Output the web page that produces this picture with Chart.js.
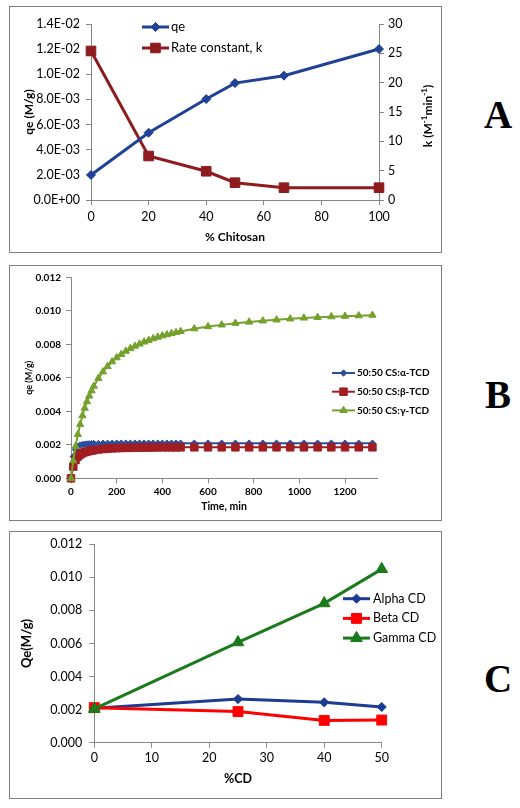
<!DOCTYPE html>
<html lang="en">
<head>
<meta charset="UTF-8">
<title>Chitosan / cyclodextrin adsorption</title>
<script src="https://cdn.jsdelivr.net/npm/chart.js"></script>
<style>
  body { margin: 0; background: #fff; width: 520px; height: 808px; position: relative; overflow: hidden; }
  .box { position: absolute; border: 1px solid #7f7f7f; box-sizing: border-box; }
  canvas { position: absolute; left: 0; }
  .tag { position: absolute; font-family: 'Liberation Serif', serif; font-weight: bold; font-size: 39px;
         transform: translate(-50%, -50%); color: #000; }
</style>
</head>
<body>
<div class="box" style="left:9px;top:6px;width:433px;height:247px"></div>
<div class="box" style="left:9px;top:265px;width:433px;height:256px"></div>
<div class="box" style="left:9px;top:531px;width:433px;height:268px"></div>

<canvas id="chartA" width="450" height="260" style="top:0"></canvas>
<canvas id="chartB" width="450" height="260" style="top:260px"></canvas>
<canvas id="chartC" width="450" height="280" style="top:525px"></canvas>

<div class="tag" style="left:498px;top:114px">A</div>
<div class="tag" style="left:498px;top:394px">B</div>
<div class="tag" style="left:498px;top:678px">C</div>

<script>
// ---- panel A: qe and rate constant vs % chitosan
const chitosanPct = [0, 20, 40, 50, 67, 100];
const qeValues = [0.00199, 0.00535, 0.00803, 0.0093, 0.00989, 0.01201];
const kValues = [25.4, 7.5, 4.9, 2.95, 2.1, 2.1];
const pctTicks = [0, 20, 40, 60, 80, 100];
const qeTicks = [0, 0.002, 0.004, 0.006, 0.008, 0.010, 0.012, 0.014];
const qeTickLabels = ['0.0E+00', '2.0E-03', '4.0E-03', '6.0E-03', '8.0E-03', '1.0E-02', '1.2E-02', '1.4E-02'];
const kTicks = [0, 5, 10, 15, 20, 25, 30];

// ---- panel B: kinetics of 50:50 CS:CD blends
const timeMin = [0, 10, 20, 30, 40, 50, 60, 70, 80, 90, 100, 120, 140, 160, 180, 200, 220, 240, 260, 280,
  300, 320, 340, 360, 380, 400, 420, 440, 460, 480, 540, 600, 660, 720, 780, 840, 900, 960, 1020, 1080,
  1140, 1200, 1260, 1320];
const alphaTCD = [0, 0.0013, 0.0017, 0.0019, 0.00198, 0.00202, 0.00204, 0.00205, 0.00206, 0.00207, 0.00208,
  0.00208, 0.00209, 0.00209, 0.00209, 0.0021, 0.0021, 0.0021, 0.0021, 0.0021, 0.0021, 0.0021, 0.0021, 0.0021,
  0.0021, 0.0021, 0.0021, 0.0021, 0.0021, 0.0021, 0.0021, 0.0021, 0.0021, 0.0021, 0.0021, 0.0021, 0.0021,
  0.0021, 0.0021, 0.0021, 0.0021, 0.0021, 0.0021, 0.0021];
const betaTCD = [0, 0.0007, 0.0011, 0.0013, 0.00142, 0.0015, 0.00156, 0.0016, 0.00163, 0.00166, 0.00168,
  0.00172, 0.00175, 0.00177, 0.00179, 0.0018, 0.00181, 0.00182, 0.00182, 0.00183, 0.00183, 0.00184, 0.00184,
  0.00184, 0.00185, 0.00185, 0.00185, 0.00185, 0.00185, 0.00185, 0.00185, 0.00185, 0.00185, 0.00185, 0.00185,
  0.00185, 0.00185, 0.00185, 0.00185, 0.00185, 0.00185, 0.00185, 0.00185, 0.00185];
const gammaTCD = [0, 0.00105, 0.00191, 0.00262, 0.00322, 0.00374, 0.00419, 0.00458, 0.00492, 0.00523, 0.0055,
  0.00597, 0.00636, 0.00668, 0.00696, 0.0072, 0.0074, 0.00759, 0.00775, 0.00789, 0.00802, 0.00814, 0.00824,
  0.00834, 0.00843, 0.00851, 0.00858, 0.00865, 0.00871, 0.00877, 0.00893, 0.00906, 0.00916, 0.00926, 0.00933,
  0.0094, 0.00946, 0.00952, 0.00957, 0.00961, 0.00965, 0.00968, 0.00971, 0.00974];
const timeTicks = [0, 200, 400, 600, 800, 1000, 1200];
const timeTickLabels = ['0', '200', '400', '600', '800', '1000', '1200'];

// ---- panel C: Qe vs % CD
const cdPct = [0, 25, 40, 50];
const alphaCD = [0.00208, 0.00264, 0.00244, 0.00216];
const betaCD = [0.00212, 0.00188, 0.00135, 0.00137];
const gammaCD = [0.00204, 0.00607, 0.00843, 0.0105];
const cdTicks = [0, 10, 20, 30, 40, 50];

// shared 0.000 - 0.012 axis for B and C
const q12Ticks = [0, 0.002, 0.004, 0.006, 0.008, 0.010, 0.012];
const q12TickLabels = ['0.000', '0.002', '0.004', '0.006', '0.008', '0.010', '0.012'];

Chart.defaults.font.family = "Lato, 'Liberation Sans', sans-serif";
Chart.defaults.color = '#000';

const pairs = (xs, ys) => xs.map((x, i) => ({ x: x, y: ys[i] }));
const useTicks = vals => scale => { scale.ticks = vals.map(v => ({ value: v })); };
const fitWidth = w => scale => { scale.width = w; };
const fitHeight = h => scale => { scale.height = h; };
const axisGrid = { display: true, drawOnChartArea: false, drawTicks: true, tickLength: 5, color: '#868686' };
const axisBorder = { color: '#868686', width: 1 };

// legend drawn inside the plot, Excel style (line with marker in the middle)
const legendBox = {
  id: 'legendBox',
  afterDatasetsDraw(chart, args, opts) {
    const ctx = chart.ctx;
    ctx.save();
    chart.data.datasets.forEach((ds, i) => {
      const y = opts.top + i * opts.rowHeight;
      ctx.strokeStyle = ds.borderColor;
      ctx.lineWidth = ds.borderWidth;
      ctx.beginPath();
      ctx.moveTo(opts.left, y);
      ctx.lineTo(opts.left + opts.lineLength, y);
      ctx.stroke();
      ctx.fillStyle = ds.backgroundColor;
      ctx.lineWidth = 1;
      Chart.helpers.drawPoint(ctx, { pointStyle: ds.pointStyle, radius: ds.pointRadius, rotation: 0, borderWidth: 1 },
        opts.left + opts.lineLength / 2, y);
      ctx.fillStyle = '#000';
      ctx.font = opts.font;
      ctx.textAlign = 'left';
      ctx.textBaseline = 'middle';
      ctx.fillText(ds.label, opts.left + opts.lineLength + opts.gap, y);
    });
    ctx.restore();
  }
};

// right axis title of A reads bottom-to-top and has superscripts
const kTitle = {
  id: 'kTitle',
  afterDraw(chart) {
    const ctx = chart.ctx;
    const area = chart.chartArea;
    const parts = [['k (M', 12, 0], ['-1', 8, -4], ['min', 12, 0], ['-1', 8, -4], [')', 12, 0]];
    const fam = Chart.defaults.font.family;
    ctx.save();
    let total = 0;
    parts.forEach(p => { ctx.font = 'bold ' + p[1] + 'px ' + fam; total += ctx.measureText(p[0]).width; });
    ctx.translate(chart.scales.y2.right - 22, (area.top + area.bottom) / 2 + 4);
    ctx.rotate(-Math.PI / 2);
    ctx.fillStyle = '#000';
    ctx.textBaseline = 'middle';
    ctx.textAlign = 'left';
    let x = -total / 2;
    parts.forEach(p => {
      ctx.font = 'bold ' + p[1] + 'px ' + fam;
      ctx.fillText(p[0], x, p[2]);
      x += ctx.measureText(p[0]).width;
    });
    ctx.restore();
  }
};

const blueA = '#1f4196', redA = '#8e1b1e';
new Chart(document.getElementById('chartA'), {
  type: 'line',
  data: {
    datasets: [
      { label: 'qe', data: pairs(chitosanPct, qeValues), yAxisID: 'y', borderColor: blueA, backgroundColor: blueA,
        borderWidth: 3, pointStyle: 'rectRot', pointRadius: 4.5, pointBorderWidth: 1, clip: false },
      { label: 'Rate constant, k', data: pairs(chitosanPct, kValues), yAxisID: 'y2', borderColor: redA, backgroundColor: redA,
        borderWidth: 3, pointStyle: 'rect', pointRadius: 6.8, pointBorderWidth: 1, clip: false }
    ]
  },
  options: {
    responsive: false, animation: false,
    layout: { padding: { top: 24, left: 0, right: 0, bottom: 0 } },
    plugins: {
      legend: { display: false }, tooltip: { enabled: false },
      legendBox: { left: 142, top: 27, rowHeight: 21, lineLength: 27, gap: 2, font: "13px Lato, 'Liberation Sans', sans-serif" }
    },
    scales: {
      x: { type: 'linear', min: 0, max: 100, afterBuildTicks: useTicks(pctTicks), afterFit: fitHeight(60),
        grid: axisGrid, border: axisBorder, ticks: { font: { size: 12.5 }, padding: 4, maxRotation: 0 },
        title: { display: true, text: '% Chitosan', font: { size: 12, weight: 'bold' }, padding: { top: 0, bottom: 15.8 } } },
      y: { position: 'left', min: 0, max: 0.014, afterBuildTicks: useTicks(qeTicks), afterFit: fitWidth(91),
        grid: axisGrid, border: axisBorder, ticks: { font: { size: 12.5 }, padding: 6, callback: (v, i) => qeTickLabels[i] },
        title: { display: true, text: 'qe (M/g)', font: { size: 12, weight: 'bold' }, padding: { top: 21.8, bottom: 0 } } },
      y2: { position: 'right', min: 0, max: 30, afterBuildTicks: useTicks(kTicks), afterFit: fitWidth(71),
        grid: axisGrid, border: axisBorder, ticks: { font: { size: 12.5 }, padding: 4 } }
    }
  },
  plugins: [legendBox, kTitle]
});

const blueB = '#2a4f9e', redB = '#a01e23', greenB = '#74a02c';
new Chart(document.getElementById('chartB'), {
  type: 'line',
  data: {
    datasets: [
      { label: '50:50 CS:\u03b1-TCD', data: pairs(timeMin, alphaTCD), order: 3, borderColor: blueB, backgroundColor: blueB,
        borderWidth: 2, pointStyle: 'rectRot', pointRadius: 3.2, pointBorderWidth: 1, clip: false },
      { label: '50:50 CS:\u03b2-TCD', data: pairs(timeMin, betaTCD), order: 2, borderColor: redB, backgroundColor: redB,
        borderWidth: 2, pointStyle: 'rect', pointRadius: 5.3, pointBorderWidth: 1, clip: false },
      { label: '50:50 CS:\u03b3-TCD', data: pairs(timeMin, gammaTCD), order: 1, borderColor: greenB, backgroundColor: greenB,
        borderWidth: 2, pointStyle: 'triangle', pointRadius: 4.2, pointBorderWidth: 1, clip: false }
    ]
  },
  options: {
    responsive: false, animation: false,
    layout: { padding: { top: 17.3, left: 0, right: 73, bottom: 0 } },
    plugins: {
      legend: { display: false }, tooltip: { enabled: false },
      legendBox: { left: 332, top: 113, rowHeight: 18.7, lineLength: 23, gap: 2, font: "bold 10px Lato, 'Liberation Sans', sans-serif" }
    },
    scales: {
      x: { type: 'linear', min: 0, max: 1340, afterBuildTicks: useTicks(timeTicks), afterFit: fitHeight(41.7),
        grid: axisGrid, border: axisBorder,
        ticks: { font: { size: 10, weight: 'bold' }, padding: 2, maxRotation: 0, callback: (v, i) => timeTickLabels[i] },
        title: { display: true, text: 'Time, min', font: { size: 10.5, weight: 'bold' }, padding: { top: 0, bottom: 7 } } },
      y: { position: 'left', min: 0, max: 0.012, afterBuildTicks: useTicks(q12Ticks), afterFit: fitWidth(71),
        grid: axisGrid, border: axisBorder, ticks: { font: { size: 10, weight: 'bold' }, padding: 5, callback: (v, i) => q12TickLabels[i] },
        title: { display: true, text: 'qe (M/g)', font: { size: 9, weight: 'bold' }, padding: { top: 23.6, bottom: 0 } } }
    }
  },
  plugins: [legendBox]
});

const blueC = '#1c3c93', redC = '#ff0000', greenC = '#1b7a1b';
new Chart(document.getElementById('chartC'), {
  type: 'line',
  data: {
    datasets: [
      { label: 'Alpha CD', data: pairs(cdPct, alphaCD), order: 3, borderColor: blueC, backgroundColor: blueC,
        borderWidth: 3, pointStyle: 'rectRot', pointRadius: 4.6, pointBorderWidth: 1, clip: false },
      { label: 'Beta CD', data: pairs(cdPct, betaCD), order: 2, borderColor: redC, backgroundColor: redC,
        borderWidth: 3, pointStyle: 'rect', pointRadius: 7, pointBorderWidth: 1, clip: false },
      { label: 'Gamma CD', data: pairs(cdPct, gammaCD), order: 1, borderColor: greenC, backgroundColor: greenC,
        borderWidth: 3, pointStyle: 'triangle', pointRadius: 6.8, pointBorderWidth: 1, clip: false }
    ]
  },
  options: {
    responsive: false, animation: false,
    layout: { padding: { top: 19.3, left: 0, right: 68.3, bottom: 0 } },
    plugins: {
      legend: { display: false }, tooltip: { enabled: false },
      legendBox: { left: 343, top: 73.7, rowHeight: 19.7, lineLength: 27, gap: 3, font: "12.5px Lato, 'Liberation Sans', sans-serif" }
    },
    scales: {
      x: { type: 'linear', min: 0, max: 50, afterBuildTicks: useTicks(cdTicks), afterFit: fitHeight(62.3),
        grid: axisGrid, border: axisBorder, ticks: { font: { size: 12.5 }, padding: 3, maxRotation: 0 },
        title: { display: true, text: '%CD', font: { size: 12.5, weight: 'bold' }, padding: { top: 0, bottom: 18.2 } } },
      y: { position: 'left', min: 0, max: 0.012, afterBuildTicks: useTicks(q12Ticks), afterFit: fitWidth(94.3),
        grid: axisGrid, border: axisBorder, ticks: { font: { size: 12.5 }, padding: 7, callback: (v, i) => q12TickLabels[i] },
        title: { display: true, text: 'Qe(M/g)', font: { size: 13, weight: 'bold' }, padding: { top: 18.9, bottom: 0 } } }
    }
  },
  plugins: [legendBox]
});
</script>
</body>
</html>
